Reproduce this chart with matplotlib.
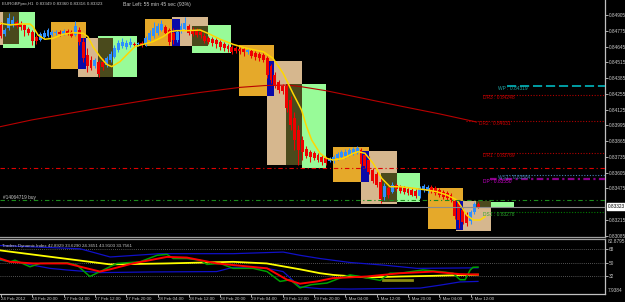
import matplotlib
matplotlib.use("Agg")
import matplotlib.pyplot as plt
from matplotlib.patches import Rectangle
from matplotlib.transforms import blended_transform_factory
import numpy as np

plt.rcParams['font.family'] = ['Liberation Sans', 'DejaVu Sans']

# ---------------- data ----------------
title_text = "EURGBPpro,H1  0.83349 0.83360 0.83316 0.83323"
timer_text = "Bar Left: 55 min 45 sec (93%)"
tdi_text = "Traders Dynamic Index 42.8929 33.6290 24.3651 43.9103 33.7561"
order_text = "#14064719 buy"

opens = [0.84823, 0.84748, 0.84798, 0.84823, 0.84847, 0.84831, 0.84823, 0.84790, 0.84765, 0.84724,
         0.84699, 0.84724, 0.84732, 0.84740, 0.84757, 0.84765, 0.84748, 0.84773, 0.84765, 0.84740,
         0.84781, 0.84682, 0.84575, 0.84534, 0.84484, 0.84517, 0.84517, 0.84493, 0.84534, 0.84559,
         0.84616, 0.84649, 0.84641, 0.84658, 0.84666, 0.84666, 0.84674, 0.84666, 0.84699, 0.84732,
         0.84757, 0.84781, 0.84806, 0.84781, 0.84757, 0.84699, 0.84773, 0.84790, 0.84814, 0.84781,
         0.84781, 0.84765, 0.84732, 0.84715, 0.84707, 0.84699, 0.84682, 0.84666, 0.84649, 0.84641,
         0.84633, 0.84625, 0.84625, 0.84600, 0.84608, 0.84592, 0.84583, 0.84575, 0.84550, 0.84484,
         0.84410, 0.84352, 0.84319, 0.84319, 0.84204, 0.84055, 0.83956, 0.83873, 0.83799, 0.83774,
         0.83766, 0.83750, 0.83733, 0.83725, 0.83700, 0.83700, 0.83725, 0.83733, 0.83741, 0.83750,
         0.83766, 0.83766, 0.83791, 0.83750, 0.83708, 0.83626, 0.83593, 0.83527, 0.83403, 0.83477,
         0.83444, 0.83502, 0.83485, 0.83477, 0.83469, 0.83461, 0.83452, 0.83411, 0.83461, 0.83452,
         0.83485, 0.83477, 0.83461, 0.83444, 0.83436, 0.83420, 0.83370, 0.83353, 0.83296, 0.83263,
         0.83205, 0.83279, 0.83349]
highs = [0.84847, 0.84798, 0.84922, 0.84897, 0.84864, 0.84856, 0.84831, 0.84806, 0.84781, 0.84740,
         0.84765, 0.84781, 0.84798, 0.84781, 0.84781, 0.84781, 0.84790, 0.84790, 0.84781, 0.84856,
         0.84806, 0.84715, 0.84633, 0.84567, 0.84550, 0.84534, 0.84550, 0.84567, 0.84608, 0.84658,
         0.84699, 0.84715, 0.84699, 0.84715, 0.84682, 0.84682, 0.84691, 0.84732, 0.84781, 0.84847,
         0.84839, 0.84864, 0.84823, 0.84798, 0.84798, 0.84781, 0.84839, 0.84889, 0.84831, 0.84806,
         0.84798, 0.84790, 0.84757, 0.84732, 0.84724, 0.84715, 0.84699, 0.84682, 0.84666, 0.84658,
         0.84649, 0.84641, 0.84641, 0.84633, 0.84625, 0.84608, 0.84600, 0.84592, 0.84567, 0.84501,
         0.84435, 0.84369, 0.84336, 0.84336, 0.84237, 0.84105, 0.83997, 0.83906, 0.83824, 0.83791,
         0.83783, 0.83766, 0.83750, 0.83741, 0.83733, 0.83750, 0.83774, 0.83791, 0.83799, 0.83807,
         0.83816, 0.83824, 0.83807, 0.83774, 0.83741, 0.83642, 0.83618, 0.83552, 0.83518, 0.83494,
         0.83527, 0.83518, 0.83502, 0.83494, 0.83485, 0.83477, 0.83469, 0.83494, 0.83510, 0.83502,
         0.83502, 0.83494, 0.83477, 0.83461, 0.83452, 0.83436, 0.83386, 0.83370, 0.83312, 0.83279,
         0.83296, 0.83362, 0.83360]
lows = [0.84715, 0.84732, 0.84781, 0.84806, 0.84798, 0.84781, 0.84732, 0.84740, 0.84658, 0.84666,
        0.84691, 0.84715, 0.84724, 0.84732, 0.84740, 0.84732, 0.84740, 0.84740, 0.84724, 0.84732,
        0.84658, 0.84517, 0.84435, 0.84451, 0.84468, 0.84393, 0.84451, 0.84476, 0.84517, 0.84550,
        0.84600, 0.84633, 0.84625, 0.84641, 0.84641, 0.84649, 0.84641, 0.84649, 0.84682, 0.84715,
        0.84740, 0.84773, 0.84748, 0.84658, 0.84666, 0.84682, 0.84757, 0.84781, 0.84740, 0.84732,
        0.84724, 0.84715, 0.84674, 0.84666, 0.84649, 0.84633, 0.84616, 0.84608, 0.84600, 0.84583,
        0.84592, 0.84583, 0.84567, 0.84583, 0.84550, 0.84534, 0.84526, 0.84517, 0.84385, 0.84344,
        0.84303, 0.84261, 0.84253, 0.84105, 0.83956, 0.83791, 0.83667, 0.83708, 0.83725, 0.83692,
        0.83708, 0.83692, 0.83667, 0.83667, 0.83692, 0.83684, 0.83708, 0.83725, 0.83725, 0.83741,
        0.83750, 0.83758, 0.83659, 0.83642, 0.83593, 0.83518, 0.83485, 0.83353, 0.83378, 0.83395,
        0.83436, 0.83452, 0.83436, 0.83428, 0.83420, 0.83411, 0.83395, 0.83395, 0.83444, 0.83436,
        0.83436, 0.83420, 0.83403, 0.83387, 0.83378, 0.83362, 0.83221, 0.83147, 0.83180, 0.83164,
        0.83180, 0.83263, 0.83316]
closes = [0.84732, 0.84781, 0.84880, 0.84864, 0.84814, 0.84806, 0.84781, 0.84757, 0.84691, 0.84691,
          0.84748, 0.84757, 0.84781, 0.84765, 0.84765, 0.84748, 0.84773, 0.84757, 0.84732, 0.84814,
          0.84682, 0.84550, 0.84484, 0.84468, 0.84534, 0.84418, 0.84476, 0.84550, 0.84583, 0.84633,
          0.84674, 0.84682, 0.84674, 0.84682, 0.84658, 0.84674, 0.84658, 0.84715, 0.84757, 0.84798,
          0.84814, 0.84831, 0.84757, 0.84682, 0.84699, 0.84765, 0.84814, 0.84839, 0.84757, 0.84748,
          0.84740, 0.84740, 0.84691, 0.84682, 0.84674, 0.84666, 0.84641, 0.84633, 0.84625, 0.84600,
          0.84608, 0.84608, 0.84600, 0.84616, 0.84567, 0.84559, 0.84550, 0.84534, 0.84410, 0.84369,
          0.84327, 0.84286, 0.84278, 0.84138, 0.83997, 0.83873, 0.83791, 0.83774, 0.83741, 0.83733,
          0.83725, 0.83708, 0.83692, 0.83684, 0.83717, 0.83733, 0.83758, 0.83774, 0.83774, 0.83791,
          0.83799, 0.83807, 0.83675, 0.83659, 0.83609, 0.83535, 0.83502, 0.83386, 0.83494, 0.83420,
          0.83502, 0.83469, 0.83452, 0.83444, 0.83436, 0.83420, 0.83411, 0.83477, 0.83494, 0.83485,
          0.83452, 0.83436, 0.83420, 0.83403, 0.83395, 0.83378, 0.83246, 0.83213, 0.83197, 0.83188,
          0.83279, 0.83349, 0.83323]

# smoothed yellow line (bar position, price)
yellow_x = [-0.26, 2.3, 4.86, 7.41, 8.18, 9.46, 11.2, 13.3, 15.8, 18.4, 21, 22.2, 23.5, 25.3, 27, 28.3,
            30.4, 32.5, 34.2, 36.3, 38.8, 41.4, 43.2, 44.9, 47.5, 50.9, 52.9, 56, 59.3, 62.8, 67, 69.5,
            72.1, 74.6, 76.8, 78.1, 79.4, 81.5, 83.2, 84.9, 87.5, 90, 91.3, 93, 95.1, 97.3, 99.4, 102,
            105.4, 108.8, 111.3, 113.9, 116.5, 118.2, 119, 120.7, 122.4, 123.7]
yellow_p = [0.84837, 0.84823, 0.84831, 0.84831, 0.84809, 0.84740, 0.84705, 0.84713, 0.84746, 0.84759,
            0.84754, 0.84726, 0.84644, 0.84561, 0.84498, 0.84479, 0.84520, 0.84589, 0.84644, 0.84663,
            0.84685, 0.84726, 0.84767, 0.84776, 0.84776, 0.84781, 0.84754, 0.84705, 0.84663, 0.84630,
            0.84602, 0.84548, 0.84424, 0.84259, 0.84121, 0.83983, 0.83873, 0.83764, 0.83722, 0.83708,
            0.83722, 0.83764, 0.83777, 0.83764, 0.83681, 0.83557, 0.83488, 0.83488, 0.83475, 0.83461,
            0.83447, 0.83420, 0.83378, 0.83296, 0.83254, 0.83213, 0.83213, 0.83240]

# long moving average (dark red)
ma_x = [-0.26, 7.85, 25.3, 40.6, 50.9, 61.1, 67.5, 73.3, 76.4, 83.1, 91.7, 102, 112.2, 118, 121.5]
ma_p = [0.83983, 0.84039, 0.84138, 0.84220, 0.84266, 0.84308, 0.84323, 0.84327, 0.84315, 0.84280,
        0.84223, 0.84154, 0.84088, 0.84047, 0.84022]

# session boxes: kind, start bar, end bar, top price, bottom price
box_kind = ['green', 'tan', 'olive',
            'green', 'tan', 'orange', 'olive', 'blue',
            'green', 'tan', 'orange', 'olive', 'blue',
            'green', 'tan', 'orange', 'olive', 'blue',
            'green', 'tan', 'orange', 'olive', 'blue',
            'green', 'tan', 'orange', 'olive', 'blue']
box_x0 = [0.59, -0.26, 0.59,
          24.79, 19.68, 12.7, 24.79, 19.68,
          48.89, 43.78, 36.8, 48.89, 43.78,
          76.85, 67.98, 60.9, 72.91, 67.98,
          97.11, 92.0, 84.92, 97.11, 92.0,
          125.15, 116.2, 109.2, 121.31, 116.2]
box_x1 = [8.69, 0.59, 4.6,
          34.76, 24.79, 21.65, 28.7, 21.65,
          58.86, 52.82, 43.78, 52.82, 45.82,
          82.98, 76.85, 69.85, 76.85, 69.85,
          107.08, 101.13, 94.05, 101.13, 94.05,
          131.18, 125.15, 118.15, 125.15, 118.15]
box_top = [0.84930, 0.84930, 0.84930,
           0.84732, 0.84718, 0.84850, 0.84713, 0.84718,
           0.84820, 0.84886, 0.84870, 0.84814, 0.84870,
           0.84336, 0.84526, 0.84655, 0.84336, 0.84526,
           0.83599, 0.83783, 0.83816, 0.83599, 0.83783,
           0.83362, 0.83372, 0.83475, 0.83367, 0.83372]
box_bot = [0.84633, 0.84658, 0.84666,
           0.84391, 0.84391, 0.84459, 0.84391, 0.84459,
           0.84594, 0.84652, 0.84652, 0.84652, 0.84652,
           0.83645, 0.83667, 0.84237, 0.83667, 0.84237,
           0.83364, 0.83343, 0.83529, 0.83364, 0.83529,
           0.83318, 0.83125, 0.83136, 0.83318, 0.83131]

# pivot levels
piv_names = ['WP', 'DR3', 'DR2', 'DR1', 'WS1', 'DP', 'DS1']
piv_values = [0.84319, 0.84248, 0.84031, 0.83769, 0.83584, 0.83550, 0.83278]
piv_start = [129.3, 123.2, 118.8, 123.2, 129.1, 125.0, 125.2]
piv_label_x = [127.0, 123.2, 122.2, 123.2, 127.0, 123.2, 123.2]
stop_level = 0.83640
order_level = 0.83378
bid_price = 0.83323

price_ticks = [0.84905, 0.84775, 0.84645, 0.84515, 0.84385, 0.84255, 0.84125, 0.83995,
               0.83865, 0.83735, 0.83605, 0.83475, 0.83215, 0.83085]
time_tick_bars = [0, 8, 16, 24, 32, 40, 48, 56, 64, 72, 80, 88, 96, 104, 112, 120]
time_tick_labels = ["24 Feb 2012", "24 Feb 20:00", "27 Feb 04:00", "27 Feb 12:00", "27 Feb 20:00",
                    "28 Feb 04:00", "28 Feb 12:00", "28 Feb 20:00", "29 Feb 04:00", "29 Feb 12:00",
                    "29 Feb 20:00", "1 Mar 04:00", "1 Mar 12:00", "1 Mar 20:00", "2 Mar 04:00",
                    "2 Mar 12:00"]

# Traders Dynamic Index
tdi_up_x = [-0.26, 20.2, 27.9, 40.6, 59.3, 72.1, 76.4, 81.5, 89.2, 97.6, 106.3, 121.9]
tdi_up_v = [73.3, 68.9, 57.7, 62.2, 62.2, 64.4, 60.0, 55.6, 50.2, 46.7, 42.2, 42.9]
tdi_lo_x = [-0.26, 4.86, 12.5, 16.8, 25.3, 38.1, 55.1, 59.3, 67.9, 72.1, 76.4, 81.5, 89.2, 107.1,
            112.2, 117.3, 121.9]
tdi_lo_v = [53.3, 49.8, 42.2, 40.0, 36.4, 37.3, 37.8, 43.6, 42.2, 37.8, 17.0, 14.5, 14.0, 15.3,
            19.3, 23.7, 24.4]
tdi_mid_x = [-0.26, 27.9, 42.3, 59.3, 67.9, 76.4, 81.5, 84.8, 93.5, 102, 110.4, 121.9]
tdi_mid_v = [66.7, 47.6, 48.9, 51.1, 48.9, 40.9, 35.6, 33.3, 29.8, 31.1, 32.0, 33.6]
tdi_sig_x = [-0.26, 2.3, 8.18, 16.9, 25.3, 27.9, 33.7, 42.4, 47.5, 55.2, 68, 73.1, 76.4, 80.8,
             84.8, 93.5, 102, 110.4, 117.3, 121.9]
tdi_sig_v = [55.6, 51.1, 48.9, 48.9, 37.8, 40.9, 48.9, 57.8, 56.9, 48.9, 42.2, 26.7, 21.3, 24.4,
             28.9, 31.1, 35.6, 37.8, 34.3, 33.8]
tdi_rsi_x = [-0.26, 2.3, 3.58, 7.41, 9.97, 16.9, 19.4, 22.7, 25.3, 29.6, 35.5, 39.9, 42.4, 44,
             47.5, 50.9, 52.6, 56, 59.3, 64.4, 68, 71.3, 73.9, 76.4, 79.3, 83.3, 86.6, 89.2, 91.7,
             96.9, 99.4, 102, 107.8, 112.2, 115.5, 117.3, 118.6, 119.9, 120.6, 121.9]
tdi_rsi_v = [54.2, 51.1, 53.3, 44.4, 48.9, 49.8, 46.7, 31.1, 37.8, 48.9, 51.1, 60.0, 61.3, 55.6,
             55.6, 53.3, 47.6, 48.9, 42.2, 42.2, 37.8, 24.4, 26.7, 15.6, 20.0, 22.2, 28.9, 33.3,
             31.1, 25.8, 35.6, 35.6, 40.0, 37.8, 35.6, 26.7, 26.7, 40.0, 43.6, 43.9]
tdi_hl_x = [97.6, 105.0]
tdi_hl_v = [26.7, 26.7]
tdi_levels = [68, 50, 32]
tdi_min, tdi_max = 7.9384, 82.8795

# ---------------- styling ----------------
W, H = 625, 302
AX_RIGHT = 605
MAIN_BOTTOM = 236.5
TDI_TOP, TDI_BOTTOM = 238.5, 293.5
P_TOP = 0.85029
P_PER_PX = 0.00008254
BAR_PX = 3.913
X0 = -0.26
X1 = X0 + AX_RIGHT / BAR_PX

FG = '#C8C8C8'
BULL = '#2E8FFF'
BEAR = '#F00000'
AXFS = 3.4      # axis label font size
SMALLFS = 3.2
box_colors = {'green': '#98FB98', 'tan': '#D6B78E', 'orange': '#E5A92A',
              'olive': '#4A4A1C', 'blue': '#0A0AA8'}
box_z = {'green': 1, 'tan': 2, 'orange': 3, 'olive': 4, 'blue': 5}
piv_line_col = {'WP': '#00C8D0', 'DR3': '#B00000', 'DR2': '#B00000', 'DR1': '#B00000',
                'WS1': '#4682B4', 'DP': '#8B008B', 'DS1': '#007A00'}
piv_text_col = {'WP': '#1FA5A5', 'DR3': '#D00000', 'DR2': '#D00000', 'DR1': '#D00000',
                'WS1': '#3F7FB0', 'DP': '#D000D0', 'DS1': '#2FA52F'}
piv_style = {'WP': ((0, (6, 2.5)), 1.1), 'DR3': ((0, (1, 1.5)), 0.8), 'DR2': ((0, (1, 1.5)), 0.8),
             'DR1': ((0, (1, 1.5)), 0.8), 'WS1': ((0, (1, 1.5)), 0.8),
             'DP': ((0, (3, 1.5, 1, 1.5)), 1.6), 'DS1': ((0, (1, 1.5)), 0.8)}

fig = plt.figure(figsize=(W / 100, H / 100), dpi=100, facecolor='black')
ax = fig.add_axes([0, 1 - MAIN_BOTTOM / H, AX_RIGHT / W, MAIN_BOTTOM / H], facecolor='black')
ax2 = fig.add_axes([0, 1 - TDI_BOTTOM / H, AX_RIGHT / W, (TDI_BOTTOM - TDI_TOP) / H], facecolor='black')

ax.set_xlim(X0, X1)
ax.set_ylim(P_TOP - MAIN_BOTTOM * P_PER_PX, P_TOP)
ax2.set_xlim(X0, X1)
ax2.set_ylim(tdi_min, tdi_max)

for a in (ax, ax2):
    for s in ('left', 'top', 'bottom', 'right'):
        a.spines[s].set_visible(False)
    a.spines['right'].set_visible(True)
    a.spines['right'].set_color('#C0C0C0')
    a.spines['right'].set_linewidth(0.9)
ax.spines['bottom'].set_visible(True)
ax.spines['bottom'].set_color('#A0A0A0')
ax.spines['bottom'].set_linewidth(0.9)
ax2.spines['top'].set_visible(True)
ax2.spines['top'].set_color('#A0A0A0')
ax2.spines['top'].set_linewidth(0.9)
ax2.spines['bottom'].set_visible(True)
ax2.spines['bottom'].set_color('#C0C0C0')
ax2.spines['bottom'].set_linewidth(0.9)

# boxes
for k, x0, x1, t, b in zip(box_kind, box_x0, box_x1, box_top, box_bot):
    ax.add_patch(Rectangle((x0, b), x1 - x0, t - b, facecolor=box_colors[k],
                           edgecolor='none', zorder=box_z[k]))

# moving average
ax.plot(ma_x, ma_p, color='#B80000', lw=0.8, zorder=6)

# candles
idx = np.arange(len(closes))
o = np.array(opens); c = np.array(closes); hi = np.array(highs); lo = np.array(lows)
cols = np.where(c >= o, BULL, BEAR)
ax.vlines(idx, lo, hi, colors=cols, lw=0.75, zorder=7)
ax.bar(idx, np.maximum(np.abs(c - o), 0.000012), bottom=np.minimum(o, c), width=0.75,
       color=cols, linewidth=0, zorder=8)

ax.plot(yellow_x, yellow_p, color='#FFD700', lw=1.1, zorder=9)

# horizontal lines
ax.axhline(stop_level, color='#E00000', lw=0.8, ls=(0, (4, 2.5, 1, 2.5)), zorder=10)
ax.axhline(order_level, color='#1C8A1C', lw=0.8, ls=(0, (4, 2.5, 1, 2.5)), zorder=10)
ax.axhline(bid_price, color='#8C8C8C', lw=0.8, zorder=10)

for n, v, xs, xl in zip(piv_names, piv_values, piv_start, piv_label_x):
    ls, lw = piv_style[n]
    ax.plot([xs, X1], [v, v], color=piv_line_col[n], ls=ls, lw=lw, zorder=10)
    ax.text(xl, v - 0.00002, f"{n} : {v:.5f}", color=piv_text_col[n], fontsize=3.5,
            va='top', ha='left', zorder=11)

ax.text(0.4, order_level + 0.00003, order_text, color=FG, fontsize=3.45, va='bottom', ha='left', zorder=11)

# texts on top
ax.text(0.003, 0.983, title_text, transform=ax.transAxes, color=FG, fontsize=3.2, va='center', ha='left')
ax.text(0.2035, 0.983, timer_text, transform=ax.transAxes, color=FG, fontsize=3.7, va='center', ha='left')

# price axis
ax.yaxis.tick_right()
ax.set_yticks(price_ticks)
ax.set_yticklabels([f"{p:.5f}" for p in price_ticks])
ax.tick_params(axis='y', direction='out', length=2, width=0.6, colors=FG, labelsize=AXFS, pad=0.6)
ax.set_xticks([])
trans = blended_transform_factory(ax.transAxes, ax.transData)
ax.text(1.005, bid_price, f"{bid_price:.5f}", transform=trans, fontsize=AXFS, color='black',
        va='center', ha='left', clip_on=False, zorder=30,
        bbox=dict(boxstyle='square,pad=0.18', fc='white', ec='white'))

# TDI panel
for lv in tdi_levels:
    ax2.axhline(lv, color='#6E6E6E', lw=0.6, ls=(0, (1, 1.5)), zorder=1)
ax2.plot(tdi_up_x, tdi_up_v, color='#1010C8', lw=0.9, zorder=3)
ax2.plot(tdi_lo_x, tdi_lo_v, color='#1010C8', lw=0.9, zorder=3)
ax2.plot(tdi_mid_x, tdi_mid_v, color='#FFFF00', lw=1.3, zorder=4)
ax2.plot(tdi_hl_x, tdi_hl_v, color='#8C8C10', lw=2.0, zorder=4)
ax2.plot(tdi_rsi_x, tdi_rsi_v, color='#00A000', lw=1.1, zorder=5)
ax2.plot(tdi_sig_x, tdi_sig_v, color='#FF0000', lw=1.4, zorder=6)
ax2.text(0.003, 0.86, tdi_text, transform=ax2.transAxes, color=FG, fontsize=SMALLFS, va='center', ha='left')

ax2.yaxis.tick_right()
ax2.set_yticks(tdi_levels)
ax2.set_yticklabels([str(v) for v in tdi_levels])
ax2.tick_params(axis='y', direction='out', length=2, width=0.6, colors=FG, labelsize=AXFS, pad=0.6)
ax2.text(1.005, 0.985, f"{tdi_max:.4f}", transform=ax2.transAxes, color=FG, fontsize=AXFS,
         va='top', ha='left', clip_on=False)
ax2.text(1.005, 0.06, f"{tdi_min:.4f}", transform=ax2.transAxes, color=FG, fontsize=AXFS,
         va='center', ha='left', clip_on=False)

ax2.set_xticks(time_tick_bars)
ax2.set_xticklabels(time_tick_labels, ha='left')
ax2.tick_params(axis='x', direction='out', length=2, width=0.6, colors=FG, labelsize=3.2, pad=0.8)

fig.savefig('out.png', dpi=100, facecolor='black')
